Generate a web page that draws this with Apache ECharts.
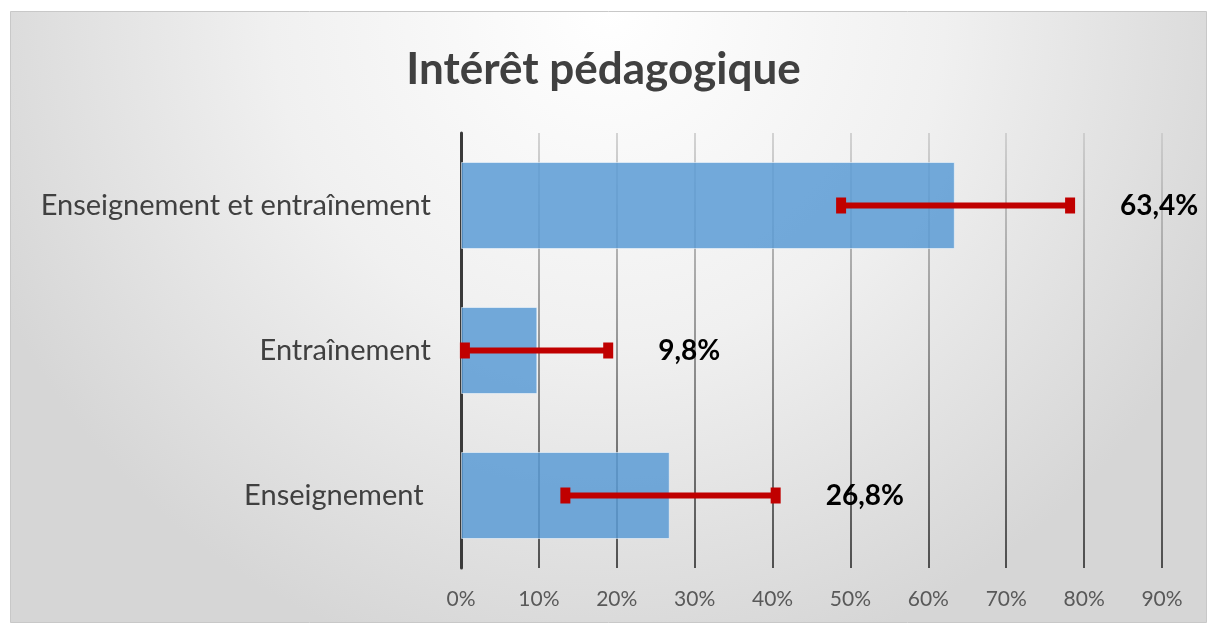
<!DOCTYPE html>
<html>
<head>
<meta charset="utf-8">
<script src="https://cdn.jsdelivr.net/npm/echarts@6/dist/echarts.min.js"></script>
<style>
  html, body { margin: 0; padding: 0; background: #fff; }
  #chart { width: 1207px; height: 623px; }
</style>
</head>
<body>
<div id="chart"></div>
<script>
var categories = ['Enseignement ', 'Entraînement', 'Enseignement et entraînement'];
var values     = [26.8, 9.8, 63.4];
var errLow     = [13.4, 0.5, 48.8];
var errHigh    = [40.4, 18.9, 78.2];
var xTicks     = [0, 10, 20, 30, 40, 50, 60, 70, 80, 90];

var font = 'Lato, "Open Sans", sans-serif';

function fmt(v) {
    return v.toFixed(1).replace('.', ',') + '%';
}

var errData = [];
for (var i = 0; i < categories.length; i++) {
    errData.push([i, errLow[i], errHigh[i], values[i]]);
}

function renderError(params, api) {
    var cat = api.value(0);
    var lo = api.coord([api.value(1), cat]);
    var hi = api.coord([api.value(2), cat]);
    var capH = 16, capW = 10;
    var style = { fill: '#c00000' };
    return {
        type: 'group',
        children: [
            { type: 'rect', shape: { x: lo[0], y: lo[1] - 3, width: hi[0] - lo[0], height: 6 }, style: style },
            { type: 'rect', shape: { x: lo[0] - capW / 2, y: lo[1] - capH / 2, width: capW, height: capH }, style: style },
            { type: 'rect', shape: { x: hi[0] - capW / 2, y: hi[1] - capH / 2, width: capW, height: capH }, style: style },
            { type: 'text', x: hi[0] + 50, y: hi[1],
              style: { text: fmt(api.value(3)), fill: '#000', font: 'bold 28px ' + font,
                       textAlign: 'left', textVerticalAlign: 'middle' } }
        ]
    };
}

var chart = echarts.init(document.getElementById('chart'));
var option = {
    animation: false,
    graphic: [{
        type: 'rect',
        z: -10,
        silent: true,
        shape: { x: 10.5, y: 11.5, width: 1196, height: 611 },
        style: {
            fill: new echarts.graphic.RadialGradient(0.5, 0, 1.1, [
                { offset: 0, color: '#ffffff' },
                { offset: 0.5, color: '#f0f0f0' },
                { offset: 1, color: '#d6d6d6' }
            ]),
            stroke: '#c8c8c8',
            lineWidth: 1
        }
    }],
    title: {
        text: 'Intérêt pédagogique',
        left: 'center',
        top: 43,
        textStyle: { fontFamily: font, fontSize: 44, fontWeight: 'bold', color: '#404040' }
    },
    grid: { left: 461, right: 45, top: 133, bottom: 55, containLabel: false },
    xAxis: {
        type: 'value',
        min: 0,
        max: 90,
        interval: 10,
        axisLine: { show: false },
        axisTick: { show: false },
        axisLabel: {
            margin: 21,
            fontFamily: font, fontSize: 21, color: '#595959',
            formatter: function (v) { return xTicks.indexOf(v) >= 0 ? v + '%' : ''; }
        },
        splitLine: {
            lineStyle: {
                width: 1.5,
                color: new echarts.graphic.LinearGradient(0, 0, 0, 1, [
                    { offset: 0, color: '#c8c8c8' },
                    { offset: 1, color: '#202020' }
                ])
            }
        }
    },
    yAxis: {
        type: 'category',
        data: categories,
        axisLine: { show: true, lineStyle: { color: '#3a3a3a', width: 3 } },
        axisTick: { show: false },
        axisLabel: { margin: 30, fontFamily: font, fontSize: 29, color: '#404040' }
    },
    series: [{
        type: 'bar',
        data: values,
        barWidth: '60%',
        itemStyle: { color: 'rgba(91,155,213,0.85)', borderColor: 'rgba(255,255,255,0.5)', borderWidth: 1 },
        z: 3
    }, {
        type: 'custom',
        data: errData,
        renderItem: renderError,
        encode: { x: [1, 2], y: 0 },
        z: 5
    }]
};
chart.setOption(option);
</script>
</body>
</html>
